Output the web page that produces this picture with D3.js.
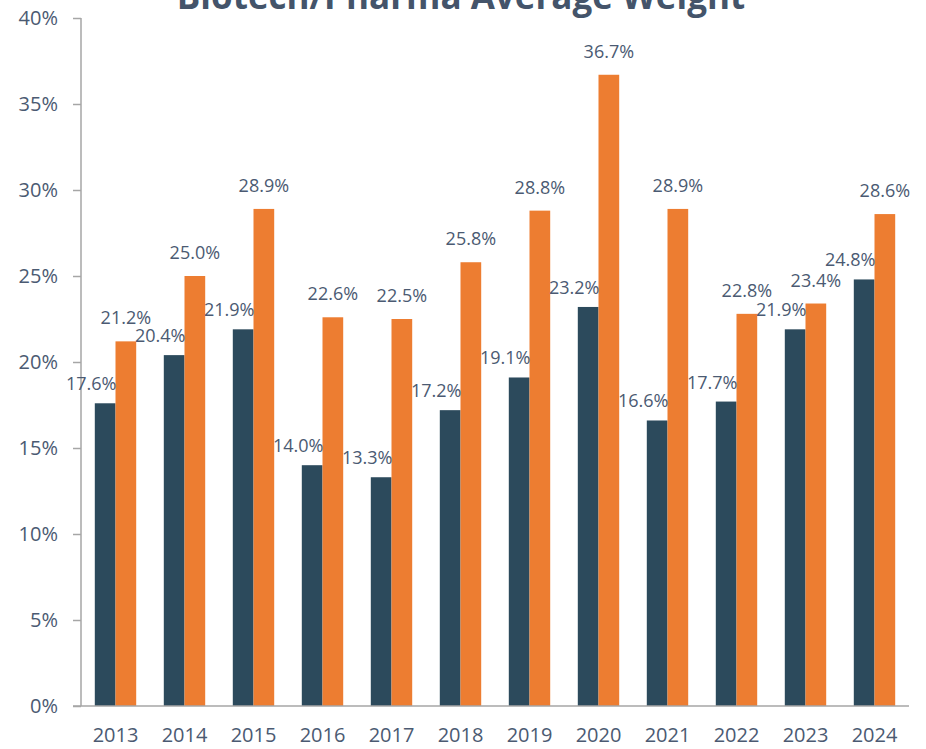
<!DOCTYPE html>
<html>
<head>
  <meta charset="utf-8">
  <title>Biotech/Pharma Average Weight</title>
  <style>
  body {
    margin: 0;
    background: #fff;
    font-family: "Open Sans", sans-serif;
  }
  </style>
</head>
<body>
  <div id="viz"></div>

  <script src="https://d3js.org/d3.v7.min.js"></script>
  <script>
    // data
    const years = ["2013", "2014", "2015", "2016", "2017", "2018", "2019", "2020", "2021", "2022", "2023", "2024"];
    const seriesA = [17.6, 20.4, 21.9, 14.0, 13.3, 17.2, 19.1, 23.2, 16.6, 17.7, 21.9, 24.8];
    const seriesB = [21.2, 25.0, 28.9, 22.6, 22.5, 25.8, 28.8, 36.7, 28.9, 22.8, 23.4, 28.6];
    const yTicks = [0, 5, 10, 15, 20, 25, 30, 35, 40];

    const svgWidth = 926;
    const svgHeight = 749;
    const margin = {top: 18, right: 17, bottom: 43, left: 81};
    const width = svgWidth - margin.left - margin.right;
    const height = svgHeight - margin.top - margin.bottom;

    const textColor = "#4b5a72";
    const axisColor = "#a6a6a6";
    const colors = ["#2c4a5c", "#ed7d31"];

    const svg = d3.select("#viz")
      .append("svg")
      .attr("width", svgWidth)
      .attr("height", svgHeight);

    // title, mostly cut off at the top edge as in the reference
    svg.append("text")
      .attr("x", 461)
      .attr("y", 9)
      .attr("text-anchor", "middle")
      .attr("font-size", 35)
      .attr("font-weight", 700)
      .attr("fill", "#44546a")
      .text("Biotech/Pharma Average Weight");

    const g = svg.append("g")
      .attr("transform", `translate(${margin.left},${margin.top})`);

    // scales
    const x = d3.scaleBand()
      .domain(years)
      .range([0, width])
      .paddingInner(0.4)
      .paddingOuter(0.2);

    const inner = d3.scaleBand()
      .domain([0, 1])
      .range([0, x.bandwidth()]);

    const y = d3.scaleLinear()
      .domain([0, 40])
      .range([height, 0]);

    // y axis
    const yAxis = d3.axisLeft(y)
      .tickValues(yTicks)
      .tickSize(8)
      .tickPadding(15)
      .tickFormat(d => d + "%");

    const gY = g.append("g").call(yAxis);
    gY.select(".domain").attr("stroke", axisColor).attr("stroke-width", 1.5)
      .attr("d", `M0,${height}V0`);
    gY.selectAll(".tick line").attr("stroke", axisColor).attr("stroke-width", 1.5);
    gY.selectAll(".tick text")
      .attr("fill", textColor)
      .attr("font-size", 20)
      .attr("font-family", "Open Sans, sans-serif");

    // x axis
    const xAxis = d3.axisBottom(x)
      .tickSize(0)
      .tickPadding(22);

    const gX = g.append("g")
      .attr("transform", `translate(0,${height})`)
      .call(xAxis);
    gX.select(".domain").remove();
    gX.selectAll(".tick text")
      .attr("fill", textColor)
      .attr("font-size", 20)
      .attr("font-family", "Open Sans, sans-serif");

    // bars
    const series = [seriesA, seriesB];
    series.forEach((vals, s) => {
      g.append("g")
        .selectAll("rect")
        .data(vals)
        .join("rect")
        .attr("x", (d, i) => x(years[i]) + inner(s))
        .attr("y", d => y(d))
        .attr("width", inner.bandwidth())
        .attr("height", d => height - y(d))
        .attr("fill", colors[s]);
    });

    // baseline
    g.append("line")
      .attr("x1", -8)
      .attr("x2", width)
      .attr("y1", height)
      .attr("y2", height)
      .attr("stroke", axisColor)
      .attr("stroke-width", 1.5);

    // value labels
    const labelShift = [[-14, -13], [0, -17]];
    series.forEach((vals, s) => {
      g.append("g")
        .selectAll("text")
        .data(vals)
        .join("text")
        .attr("x", (d, i) => x(years[i]) + inner(s) + inner.bandwidth() / 2 + labelShift[s][0])
        .attr("y", d => y(d) + labelShift[s][1])
        .attr("text-anchor", "middle")
        .attr("font-size", 18)
        .attr("fill", textColor)
        .text(d => d.toFixed(1) + "%");
    });
  </script>
</body>
</html>
